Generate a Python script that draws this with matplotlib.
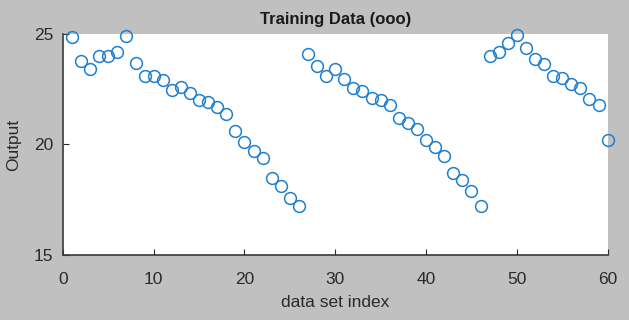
import matplotlib
matplotlib.use("Agg")
import matplotlib.pyplot as plt
import numpy as np

idx = list(range(1, 61))
output = [24.86, 23.77, 23.4, 24.0, 24.0, 24.2, 24.9, 23.7, 23.1, 23.1,
          22.9, 22.45, 22.6, 22.35, 22.0, 21.9, 21.7, 21.4, 20.6, 20.1,
          19.7, 19.4, 18.5, 18.1, 17.6, 17.2, 24.1, 23.55, 23.1, 23.4,
          22.95, 22.55, 22.4, 22.1, 22.0, 21.8, 21.2, 20.95, 20.7, 20.2,
          19.9, 19.5, 18.7, 18.4, 17.9, 17.2, 24.0, 24.2, 24.6, 24.95,
          24.35, 23.85, 23.65, 23.1, 23.0, 22.75, 22.55, 22.05, 21.8, 20.2]
xticks = [0, 10, 20, 30, 40, 50, 60]
yticks = [15, 20, 25]

plt.rcParams['font.family'] = ['Liberation Sans', 'DejaVu Sans']
fig = plt.figure(figsize=(6.29, 3.2), dpi=100, facecolor='#c0c0c0')
ax = fig.add_axes([0.1, 0.203, 0.866, 0.691])
ax.set_facecolor('white')
ax.plot(idx, output, linestyle='none', marker='o', markersize=8.5,
        markerfacecolor='none', markeredgecolor='#1f7fcf', markeredgewidth=1.1,
        clip_on=False)
ax.set_xlim(0, 60)
ax.set_ylim(15, 25)
ax.set_xticks(xticks)
ax.set_yticks(yticks)
ax.tick_params(direction='in', length=4, colors='#2a2a2a', labelsize=12.5, width=0.8)
ax.tick_params(axis='x', pad=12)
ax.tick_params(axis='y', pad=7)
for lab in ax.get_yticklabels():
    lab.set_va('center_baseline')
for s in ['top', 'right']:
    ax.spines[s].set_visible(False)
for s in ['left', 'bottom']:
    ax.spines[s].set_color('#3a3a3a')
    ax.spines[s].set_linewidth(1.2)
ax.set_xlabel('data set index', fontsize=12.5, color='#2a2a2a', labelpad=6)
ax.set_ylabel('Output', fontsize=12.5, color='#2a2a2a', labelpad=9)
ax.set_title('Training Data (ooo)', fontsize=12, fontweight='bold', color='#1a1a1a', pad=7)
fig.savefig('out.png', dpi=100, facecolor=fig.get_facecolor())
